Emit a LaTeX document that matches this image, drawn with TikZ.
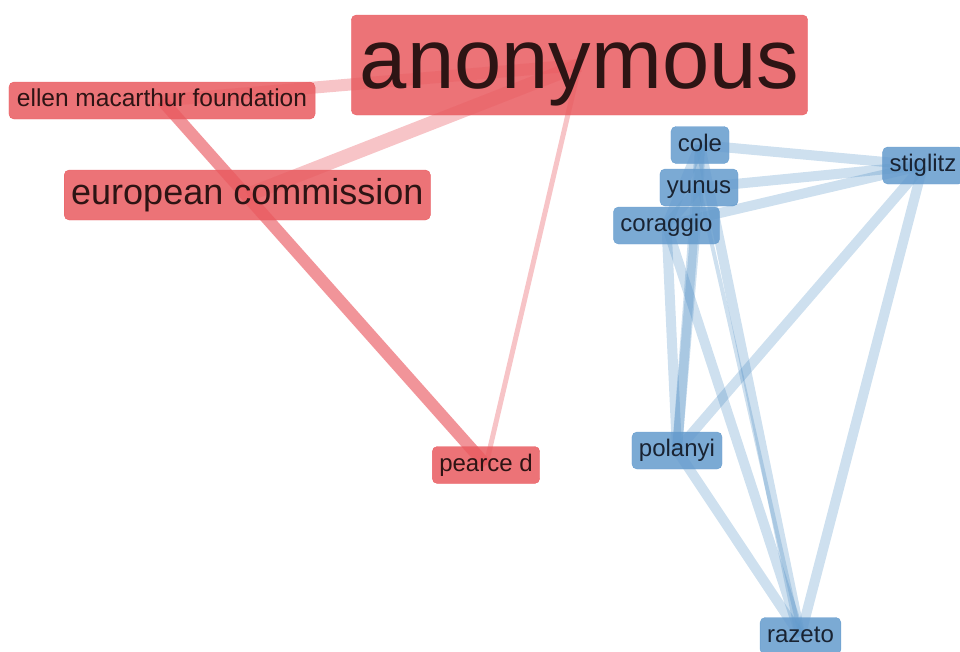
\documentclass[tikz,border=0pt]{standalone}
\usepackage{fontspec}
\setmainfont{Liberation Sans}
\usetikzlibrary{backgrounds}

\definecolor{nodered}{RGB}{233,90,95}
\definecolor{nodeblue}{RGB}{100,155,205}
\definecolor{edgered}{RGB}{230,60,70}
\definecolor{edgeblue}{RGB}{60,130,190}
\definecolor{redtext}{RGB}{45,20,20}
\definecolor{bluetext}{RGB}{25,35,50}

\begin{document}
\begin{tikzpicture}[x=1pt, y=-1pt,
	box/.style={rectangle, rounded corners=5pt, fill opacity=.85, draw
        opacity=.9, text opacity=1, inner xsep=7pt, inner ysep=0pt},
	redbox/.style={box, fill=nodered, draw=nodered, text=redtext},
	bluebox/.style={box, fill=nodeblue, draw=nodeblue, text=bluetext},
	small/.style={font=\fontsize{24}{24}\selectfont, minimum height=37pt,
        text height=17pt, text depth=5pt},
	redline/.style={draw=edgered, draw opacity=.3},
	blueline/.style={draw=edgeblue, draw opacity=.25, line width=10pt}]
	\useasboundingbox (0, 0) rectangle (960, 651);
	\clip (0, 0) rectangle (960, 651);
	% red cluster
	\node (R1) at (579.5, 65) [redbox, font=\fontsize{85}{85}\selectfont,
        minimum height=100pt, text height=64pt, text depth=18pt,
        inner xsep=8.5pt] {anonymous};
	\node (R2) at (162, 100.5) [redbox, small, inner xsep=8pt,
        font=\fontsize{24.5}{24.5}\selectfont] {ellen macarthur foundation};
	\node (R3) at (247.3, 195) [redbox, font=\fontsize{36}{36}\selectfont,
        minimum height=50pt, text height=26pt, text depth=8pt] {european
        commission};
	\node (R4) at (486, 465) [redbox, small] {pearce d};
	% blue cluster
	\node (B1) at (700, 145) [bluebox, small] {cole};
	\node (B2) at (699, 187.5) [bluebox, small] {yunus};
	\node (B3) at (666.5, 225.5) [bluebox, small] {coraggio};
	\node (B4) at (923, 165.5) [bluebox, small] {stiglitz};
	\node (B5) at (677, 450.5) [bluebox, small] {polanyi};
	\node (B6) at (800.5, 636) [bluebox, small] {razeto};
	\begin{scope}[on background layer]
		\draw [redline, line width=12pt] (R2.center) -- (R1.center);
		\draw [redline, line width=14pt] (R3.center) -- (R1.center);
		\draw [redline, line width=5pt] (R1.center) -- (R4.center);
		\draw [redline, draw opacity=.55, line width=12pt] (R2.center)
        -- (R4.center);
		\foreach \a/\b in {B1/B4, B2/B4, B3/B4, B4/B5, B4/B6, B1/B2,
            B1/B3, B2/B3, B1/B5, B2/B5, B3/B5, B1/B6, B3/B6, B5/B6}
			\draw [blueline] (\a.center) -- (\b.center);
		\draw [blueline, line width=4pt] (B2.center) -- (B6.center);
	\end{scope}
\end{tikzpicture}
\end{document}
